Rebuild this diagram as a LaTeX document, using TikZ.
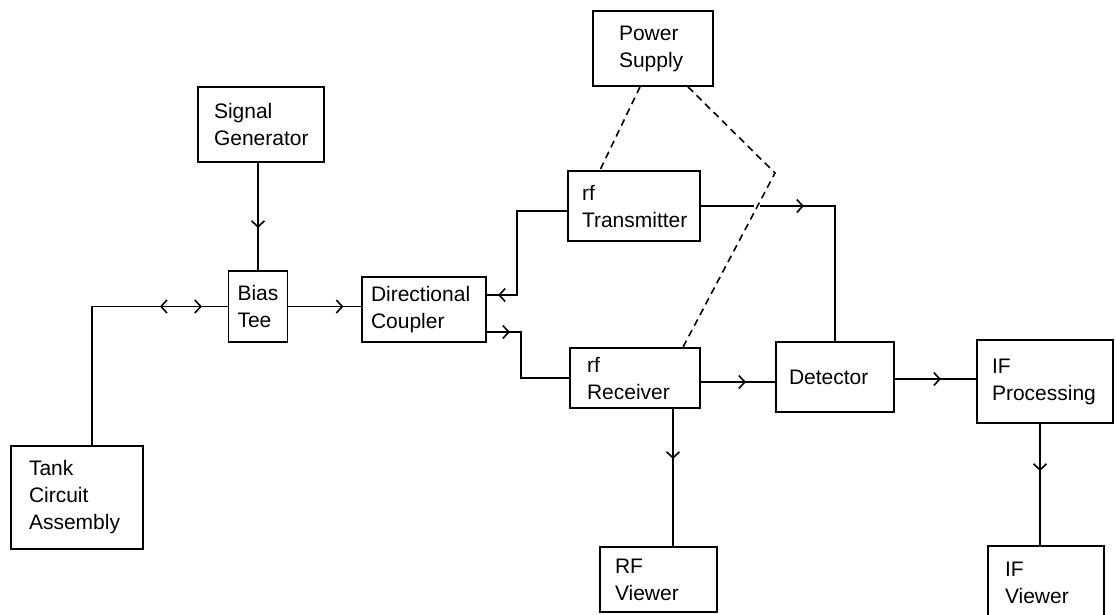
\documentclass[tikz,border=0pt]{standalone}
\usepackage{fontspec}
\setmainfont{Liberation Sans}
\usetikzlibrary{arrows.meta,decorations.markings,calc}
\tikzset{
  blk/.style={draw, line width=1.8pt, inner ysep=0pt, align=left, font=\fontsize{21}{27}\selectfont},
  wire/.style={line width=1.8pt},
  pwr/.style={line width=1.6pt, dash pattern=on 7pt off 5pt},
  chev/.style={postaction={decorate, decoration={markings, mark=at position #1 with {\arrow{Straight Barb[length=6pt,width=13pt,line width=1.6pt]}}}}},
  rchev/.style={postaction={decorate, decoration={markings, mark=at position #1 with {\arrowreversed{Straight Barb[length=6pt,width=13pt,line width=1.6pt]}}}}},
}
\begin{document}
\begin{tikzpicture}[x=1pt,y=-1pt]
\useasboundingbox (0,0) rectangle (1115,614);
\clip (0,0) rectangle (1115,614);
% blocks
\node[blk, minimum width=126pt, minimum height=75pt, inner xsep=16pt, text width=94pt] (sg) at (261,124.5) {Signal\\Generator};
\node[blk, minimum width=59pt, minimum height=71pt, inner xsep=9pt, text width=41pt] (bt) at (258,306.5) {Bias\\Tee};
\node[blk, minimum width=132pt, minimum height=103pt, inner xsep=18pt, text width=96pt] (tank) at (77,497.5) {Tank\\Circuit\\Assembly};
\node[blk, minimum width=124pt, minimum height=65pt, inner xsep=9pt, text width=106pt] (dc) at (424,309.5) {Directional\\Coupler};
\node[blk, minimum width=120pt, minimum height=75pt, inner xsep=26pt, text width=68pt] (ps) at (653,48.5) {Power\\Supply};
\node[blk, minimum width=132pt, minimum height=70pt, inner xsep=14pt, text width=104pt] (tx) at (634,206) {rf\\Transmitter};
\node[blk, minimum width=130pt, minimum height=60pt, inner xsep=17pt, text width=96pt] (rx) at (635,378) {rf\\Receiver};
\node[blk, minimum width=118pt, minimum height=70pt, inner xsep=13pt, text width=92pt] (det) at (835,377) {Detector};
\node[blk, minimum width=136pt, minimum height=83pt, inner xsep=15pt, text width=106pt] (ifp) at (1045,381.5) {IF\\Processing};
\node[blk, minimum width=117pt, minimum height=65pt, inner xsep=15pt, text width=87pt] (rfv) at (658.5,579.5) {RF\\Viewer};
\node[blk, minimum width=116pt, minimum height=74pt, inner xsep=17pt, text width=82pt] (ifv) at (1046,583) {IF\\Viewer};
% connectors
\draw[wire, chev=65pt] (sg.south -| bt.north) -- (bt.north);
\draw[wire, rchev=206.5pt, chev=248.5pt] ([xshift=15pt]tank.north) |- (bt.west);
\draw[wire, chev=55pt] (bt.east) -- (bt.east -| dc.west);
\draw[wire, chev=153pt] ([yshift=-5pt]tx.west) -- ++(-50,0) |- ([yshift=14.5pt]dc.east);
\draw[wire, chev=23pt] ([yshift=-22.5pt]dc.east) -- ++(34,0) |- (rx.west);
\draw[wire, chev=45pt] ([yshift=-4pt]rx.east) -- ([yshift=-4pt]rx.east -| det.west);
\draw[wire, chev=103pt] (tx.east) -| (det.north);
\draw[wire, chev=46pt] ([yshift=-2pt]det.east) -- ([yshift=-2pt]det.east -| ifp.west);
\draw[wire, chev=47pt] ([xshift=-5pt]ifp.south) -- ([xshift=-5pt]ifp.south |- ifv.north);
\draw[wire, chev=50pt] ([xshift=38pt]rx.south) -- ([xshift=38pt]rx.south |- rfv.north);
% power lines
\coordinate (bend) at (775,173);
\coordinate (jump) at (757,207);
\fill[white] ($(jump)+(-3,-4)$) rectangle ($(jump)+(3,4)$);
\draw[pwr] ([xshift=-13pt]ps.south) -- ([xshift=-34pt]tx.north);
\draw[pwr] ([xshift=35pt]ps.south) -- (bend) -- ([xshift=48pt]rx.north);
\end{tikzpicture}
\end{document}
